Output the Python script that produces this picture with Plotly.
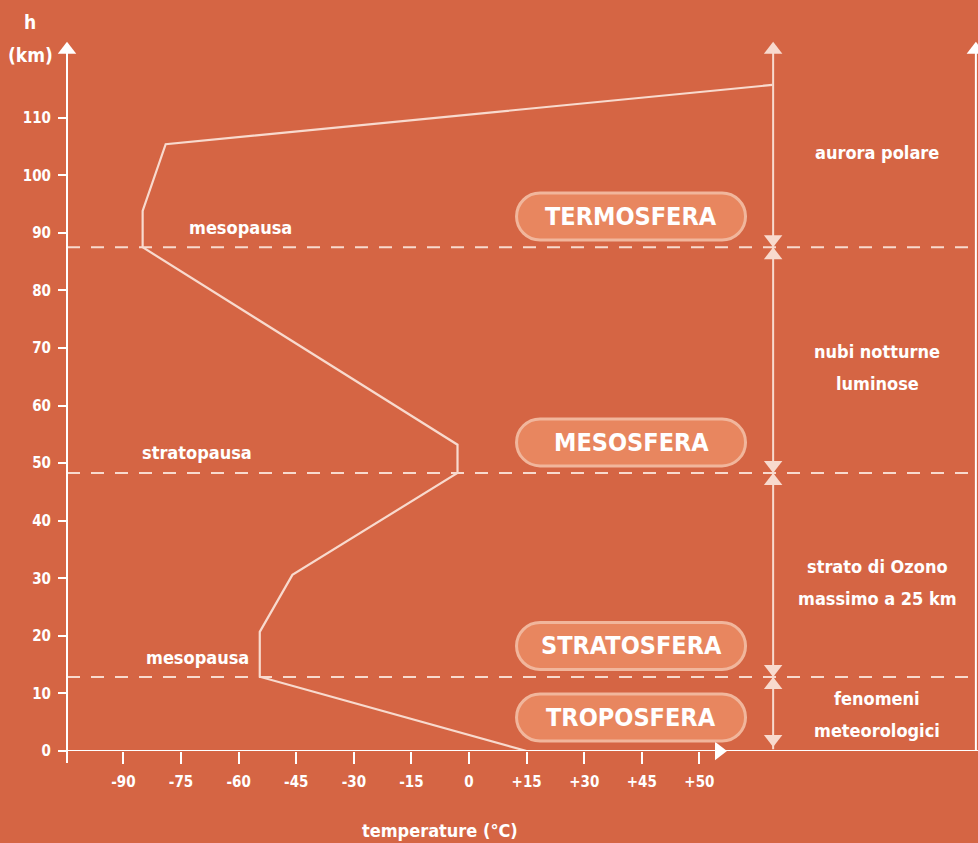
import plotly.graph_objects as go

# ---------------- data ----------------
profile_temp = [15, -54.5, -54.5, -46, -3, -3, -85, -85, -79, 79]
profile_h = [0, 12.9, 20.7, 30.6, 48.3, 53.2, 87.5, 93.8, 105.4, 115.7]
boundary_h = [12.85, 48.3, 87.5]          # tropopausa, stratopausa, mesopausa
boundary_names = ["mesopausa", "stratopausa", "mesopausa"]
boundary_label_pos = [(-70.8, 16.3), (-70.8, 51.9), (-59.4, 91.0)]
layers = ["TROPOSFERA", "STRATOSFERA", "MESOSFERA", "TERMOSFERA"]
layer_box_h = [5.82, 18.24, 53.6, 92.84]
phenomena = [["fenomeni", "meteorologici"], ["strato di Ozono", "massimo a 25 km"],
             ["nubi notturne", "luminose"], ["aurora polare"]]
phenomena_h = [6.4, 29.2, 66.7, 104.0]
x_tickvals = [-90, -75, -60, -45, -30, -15, 0, 15, 30, 45, 60]
x_ticktext = ["-90", "-75", "-60", "-45", "-30", "-15", "0", "+15", "+30", "+45", "+50"]
y_tickvals = [0, 10, 20, 30, 40, 50, 60, 70, 80, 90, 100, 110]

# ---------------- style ----------------
BG = "#D56544"
LIGHT = "#F8DACE"
WHITE = "#FFFFFF"
BOX_FILL = "#E8865F"
BOX_LINE = "#F1B69C"
FONT = "DejaVu Sans Condensed, Liberation Sans Narrow, sans-serif"

W, H = 978, 843
ML, MB = 67, 92
XR = [-104.7, 132.55]
YR = [0, 130.45]
SX = (W - ML) / (XR[1] - XR[0])
SY = (H - MB) / (YR[1] - YR[0])

fig = go.Figure()

# temperature profile
fig.add_trace(go.Scatter(x=profile_temp, y=profile_h, mode="lines",
                         line=dict(color=LIGHT, width=2.2), hoverinfo="skip",
                         showlegend=False))

shapes = []
# dashed boundaries
for b in boundary_h:
    shapes.append(dict(type="line", xref="x domain", yref="y", x0=0, x1=1, y0=b, y1=b,
                       line=dict(color=LIGHT, width=2, dash="13px,11px")))

# axes lines
shapes.append(dict(type="line", xref="x domain", yref="paper", x0=0, x1=0,
                   y0=-12 / (H - MB), y1=(H - MB - 50) / (H - MB),
                   line=dict(color=WHITE, width=2)))
shapes.append(dict(type="line", xref="x domain", yref="y", x0=0, x1=1, y0=0, y1=0,
                   line=dict(color=WHITE, width=2)))
# right vertical lines
vx = profile_temp[-1] + 0.2
shapes.append(dict(type="line", xref="x", yref="y", x0=vx, x1=vx, y0=0.3, y1=121.8,
                   line=dict(color=LIGHT, width=2)))
edge_x = 132.0
shapes.append(dict(type="line", xref="x", yref="y", x0=edge_x, x1=edge_x, y0=0, y1=121.8,
                   line=dict(color=WHITE, width=2)))


def pill(cx, cy, wpx, hpx):
    k = 0.5523
    rx = (hpx / 2) / SX
    ry = (hpx / 2) / SY
    hw = (wpx / 2) / SX
    x0 = cx - hw + rx
    x1 = cx + hw - rx
    t, b = cy + ry, cy - ry
    p = (f"M{x0},{t} L{x1},{t} "
         f"C{x1 + k * rx},{t} {x1 + rx},{cy + k * ry} {x1 + rx},{cy} "
         f"C{x1 + rx},{cy - k * ry} {x1 + k * rx},{b} {x1},{b} "
         f"L{x0},{b} "
         f"C{x0 - k * rx},{b} {x0 - rx},{cy - k * ry} {x0 - rx},{cy} "
         f"C{x0 - rx},{cy + k * ry} {x0 - k * rx},{t} {x0},{t} Z")
    return p


box_cx = (631 - 469) / SX
annotations = []
for name, bh in zip(layers, layer_box_h):
    shapes.append(dict(type="path", xref="x", yref="y", path=pill(box_cx, bh, 229, 47),
                       fillcolor=BOX_FILL, line=dict(color=BOX_LINE, width=3)))
    annotations.append(dict(x=box_cx, y=bh, xref="x", yref="y", text=name, showarrow=False,
                            xanchor="center", yanchor="middle",
                            font=dict(family=FONT, size=25, color=WHITE, weight="bold")))

# arrow markers
off = 8 / SY
ax_x, ax_y, ax_s = [], [], []
for b in boundary_h:
    ax_x += [vx, vx]
    ax_y += [b + off, b - off]
    ax_s += ["triangle-down", "triangle-up"]
ax_x += [vx, vx, XR[0], edge_x]
ax_y += [121.8, 0 + 12 / SY, 121.8, 121.8]
ax_s += ["triangle-up", "triangle-down", "triangle-up", "triangle-up"]
colors = [LIGHT] * (len(ax_x) - 2) + [WHITE, WHITE]
fig.add_trace(go.Scatter(x=ax_x, y=ax_y, mode="markers", cliponaxis=False,
                         marker=dict(symbol=ax_s, size=16, color=colors, line=dict(width=0)),
                         hoverinfo="skip", showlegend=False))
# x-axis arrow
fig.add_trace(go.Scatter(x=[65.1], y=[0], mode="markers", cliponaxis=False,
                         marker=dict(symbol="triangle-right", size=16, color=WHITE, line=dict(width=0)),
                         hoverinfo="skip", showlegend=False))

# boundary labels
for name, (tx, th) in zip(boundary_names, boundary_label_pos):
    annotations.append(dict(x=tx, y=th, xref="x", yref="y", text=name, showarrow=False,
                            xanchor="center", yanchor="middle",
                            font=dict(family=FONT, size=18, color=WHITE, weight="bold")))
# phenomena labels (one annotation per line, 32 px line spacing)
line_gap = 32 / SY
for lines, ph in zip(phenomena, phenomena_h):
    n = len(lines)
    for i, ln in enumerate(lines):
        yy = ph + ((n - 1) / 2 - i) * line_gap
        annotations.append(dict(x=106.25, y=yy, xref="x", yref="y", text=ln, showarrow=False,
                                xanchor="center", yanchor="middle",
                                font=dict(family=FONT, size=18, color=WHITE, weight="bold")))

# axis titles
for txt, px, py, fs in [("h", 30, 22, 19), ("(km)", 30, 55, 19), ("temperature (°C)", 440, 830, 18)]:
    annotations.append(dict(x=(px - ML) / (W - ML), y=(H - MB - py) / (H - MB),
                            xref="paper", yref="paper", text=txt, showarrow=False,
                            xanchor="center", yanchor="middle",
                            font=dict(family=FONT, size=fs, color=WHITE, weight="bold")))

fig.update_layout(
    width=W, height=H,
    margin=dict(l=ML, r=0, t=0, b=MB),
    paper_bgcolor=BG, plot_bgcolor=BG,
    shapes=shapes, annotations=annotations,
    showlegend=False,
    xaxis=dict(range=XR, showgrid=False, zeroline=False, showline=False,
               tickvals=x_tickvals, ticktext=x_ticktext, ticks="outside", ticklen=12,
               tickwidth=2, tickcolor=WHITE, ticklabelstandoff=5,
               tickfont=dict(family=FONT, size=15, color=WHITE, weight="bold")),
    yaxis=dict(range=YR, showgrid=False, zeroline=False, showline=False,
               tickvals=y_tickvals, ticks="outside", ticklen=8, tickwidth=2,
               tickcolor=WHITE, ticklabelstandoff=4,
               tickfont=dict(family=FONT, size=15, color=WHITE, weight="bold")),
)

fig.write_html("out.html", config={"displayModeBar": False},
               post_script="document.body.style.margin='0';document.body.style.padding='0';")
